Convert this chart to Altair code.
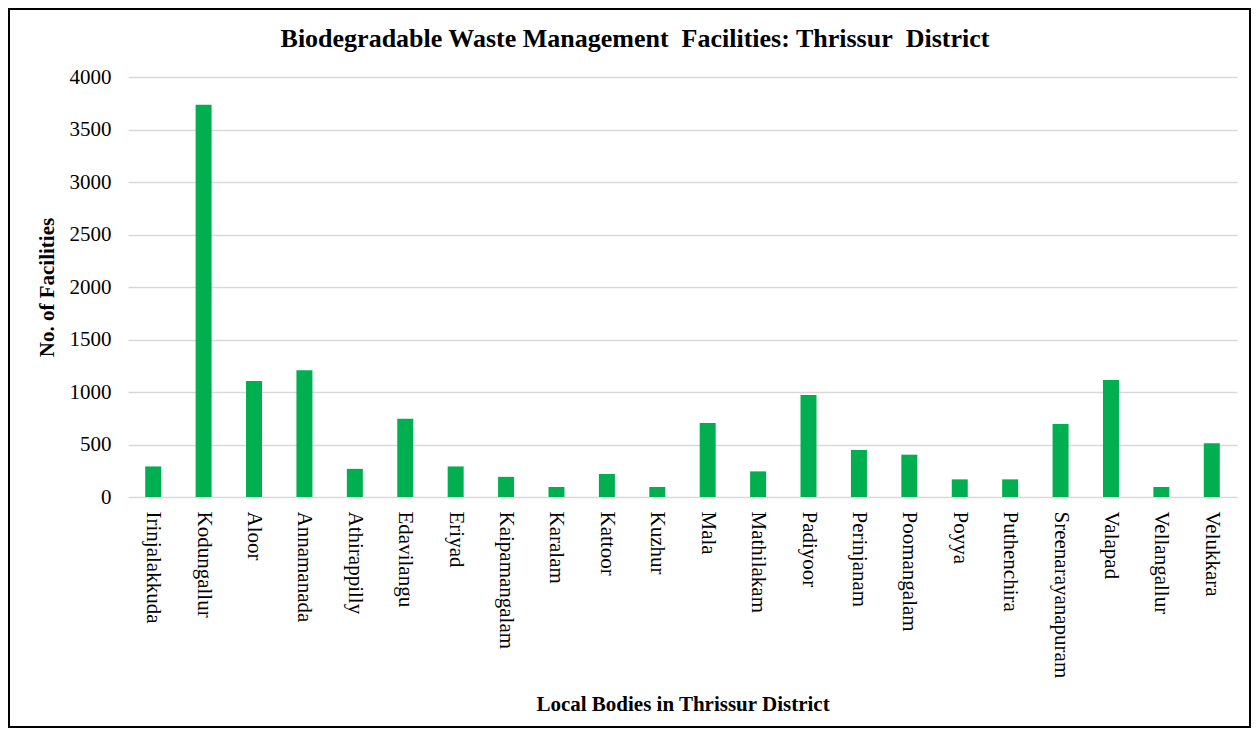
import altair as alt
import pandas as pd

bodies = ["Irinjalakkuda", "Kodungallur", "Aloor", "Annamanada", "Athirappilly",
          "Edavilangu", "Eriyad", "Kaipamangalam", "Karalam", "Kattoor", "Kuzhur",
          "Mala", "Mathilakam", "Padiyoor", "Perinjanam", "Poomangalam", "Poyya",
          "Puthenchira", "Sreenarayanapuram", "Valapad", "Vellangallur", "Velukkara"]
facilities = [291, 3736, 1105, 1206, 268, 745, 291, 192, 95, 219, 95,
              705, 244, 971, 448, 403, 168, 168, 695, 1114, 95, 511]
title_text = ["Biodegradable Waste Management\u00a0 Facilities: Thrissur\u00a0 District"]

df = pd.DataFrame({"body": bodies, "value": facilities})
tdf = pd.DataFrame({"t": title_text})

W, H = 1109, 420
FONT = "Liberation Serif"

bars = alt.Chart(df).mark_bar(color="#00B050", size=16).encode(
    x=alt.X("body:N", sort=bodies,
            scale=alt.Scale(paddingInner=0.68, paddingOuter=0.34),
            axis=alt.Axis(title="Local Bodies in Thrissur District",
                          labelAngle=90, labelAlign="left", labelBaseline="middle",
                          labelFont=FONT, labelFontSize=21, labelColor="#000000",
                          labelPadding=14, ticks=False, domain=False, grid=False,
                          titleFont=FONT, titleFontSize=21, titleFontWeight="bold",
                          titleColor="#000000", titleY=207, titleBaseline="middle")),
    y=alt.Y("value:Q",
            scale=alt.Scale(domain=[0, 4000], nice=False),
            axis=alt.Axis(title="No. of Facilities", values=list(range(0, 4001, 500)),
                          format="d",
                          labelFont=FONT, labelFontSize=21, labelColor="#000000",
                          labelPadding=17, ticks=False, domain=False,
                          grid=True, gridColor="#d9d9d9", gridWidth=1.5,
                          titleFont=FONT, titleFontSize=21, titleFontWeight="bold",
                          titleColor="#000000", titleX=-81, titleY=H / 2,
                          titleBaseline="middle", titleAlign="center")),
)

title = alt.Chart(tdf).mark_text(font=FONT, fontSize=26, fontWeight="bold",
                                 color="#000000", align="center",
                                 baseline="alphabetic").encode(
    text="t:N", x=alt.value(507), y=alt.value(-30),
)

border = alt.Chart(df).mark_rect(fill=None, stroke="#000000", strokeWidth=2).encode(
    x=alt.value(-119), x2=alt.value(W + 13),
    y=alt.value(-68), y2=alt.value(H + 230),
)

chart = alt.layer(bars, title, border).properties(
    width=W, height=H,
    autosize=alt.AutoSizeParams(type="none"),
    padding={"left": 120, "top": 69, "right": 14, "bottom": 231},
).configure(background="#ffffff").configure_view(stroke=None)

chart.save("out.html", embed_options={"renderer": "svg", "actions": False})
